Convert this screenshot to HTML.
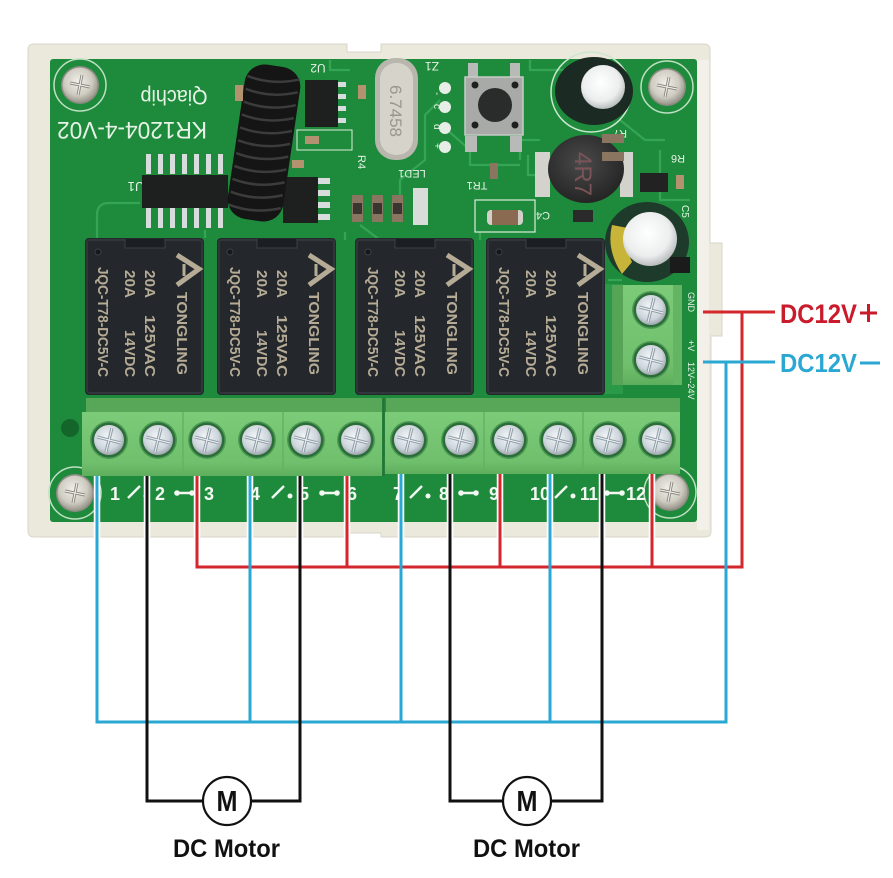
<!DOCTYPE html>
<html><head><meta charset="utf-8"><style>
html,body{margin:0;padding:0;background:#fff;}
svg{display:block;}
text{font-family:"Liberation Sans",sans-serif;}
</style></head><body>
<svg width="893" height="878" viewBox="0 0 893 878" xmlns="http://www.w3.org/2000/svg">
<defs>
 <radialGradient id="silver" cx="45%" cy="40%" r="65%">
  <stop offset="0" stop-color="#f3f6f8"/><stop offset="0.65" stop-color="#cdd6dc"/><stop offset="1" stop-color="#8e999f"/>
 </radialGradient>
 <radialGradient id="msilver" cx="45%" cy="40%" r="65%">
  <stop offset="0" stop-color="#f1efe8"/><stop offset="0.6" stop-color="#cfccc2"/><stop offset="1" stop-color="#8d8a80"/>
 </radialGradient>
 <radialGradient id="captop" cx="45%" cy="40%" r="60%">
  <stop offset="0" stop-color="#ffffff"/><stop offset="0.7" stop-color="#eceeee"/><stop offset="1" stop-color="#b9bdbd"/>
 </radialGradient>
 <radialGradient id="ind" cx="45%" cy="40%" r="60%">
  <stop offset="0" stop-color="#4a4a4a"/><stop offset="1" stop-color="#252525"/>
 </radialGradient>
 <linearGradient id="tb" x1="0" y1="0" x2="0" y2="1">
  <stop offset="0" stop-color="#7ccb79"/><stop offset="0.8" stop-color="#6fbf6d"/><stop offset="1" stop-color="#5eae5d"/>
 </linearGradient>
 <g id="ts">
  <circle r="19" fill="#4a9a52"/>
  <circle r="17.5" fill="#2c6c38"/>
  <circle r="15" fill="url(#silver)"/>
  <path d="M-12,-3 L12,3 M-3,12 L3,-12" stroke="#93a0a8" stroke-width="3.2"/>
  <path d="M-12,-3 L12,3 M-3,12 L3,-12" stroke="#eef3f6" stroke-width="1"/>
 </g>
 <g id="ms">
  <circle r="26" fill="none" stroke="#bfe0c3" stroke-width="1.5"/>
  <circle r="19" fill="#8e8b82"/>
  <circle r="17.5" fill="url(#msilver)"/>
  <path d="M-10,-2 L10,2 M-2,10 L2,-10" stroke="#8d8a82" stroke-width="3"/>
  <path d="M-10,-2 L10,2 M-2,10 L2,-10" stroke="#f5f3ee" stroke-width="1"/>
 </g>
 <g id="relay">
  <rect x="0" y="0" width="119" height="157" rx="4" fill="#24282d"/>
  <rect x="2" y="2" width="115" height="153" rx="3" fill="none" stroke="#31363b" stroke-width="2"/>
  <path d="M40,1 V10 H80 V1" fill="#1b1e22" stroke="#3b4046" stroke-width="1"/>
  <circle cx="13" cy="14" r="3" fill="#15171a" stroke="#3b4046"/>
  <g fill="#b6ac96" font-size="15" font-weight="bold">
   <text transform="translate(13,29) rotate(90)" textLength="110" lengthAdjust="spacingAndGlyphs">JQC-T78-DC5V-C</text>
   <text transform="translate(40,32) rotate(90)" textLength="28" lengthAdjust="spacingAndGlyphs">20A</text>
   <text transform="translate(40,92) rotate(90)" textLength="47" lengthAdjust="spacingAndGlyphs">14VDC</text>
   <text transform="translate(60,32) rotate(90)" textLength="28" lengthAdjust="spacingAndGlyphs">20A</text>
   <text transform="translate(60,77) rotate(90)" textLength="62" lengthAdjust="spacingAndGlyphs">125VAC</text>
   <text transform="translate(92,54) rotate(90)" textLength="83" lengthAdjust="spacingAndGlyphs">TONGLING</text>
  </g>
  <path d="M92,17 L114,31 L92,47" fill="none" stroke="#b6ac96" stroke-width="5"/>
  <path d="M99,26 L99,38" stroke="#b6ac96" stroke-width="3"/>
 </g>
</defs>

<rect width="893" height="878" fill="#fff"/>

<!-- housing -->
<path d="M34,44 H347 V52 H381 V44 H704 Q710,44 710,50 V243 H722 V336 H711 V531 Q711,537 705,537 H381 V533 H347 V537 H34 Q28,537 28,531 V50 Q28,44 34,44 Z" fill="#ebe8dc" stroke="#dad6c8" stroke-width="1"/>
<rect x="697" y="60" width="12" height="470" fill="#f2f0e8"/>

<!-- PCB -->
<rect x="50" y="59" width="647" height="463" rx="3" fill="#1e8b3c"/>
<!-- traces -->
<g fill="none" stroke="#35a555" stroke-width="2.2">
 <path d="M97,250 V215 Q97,203 109,203 H140"/>
 <path d="M330,60 V70 H350"/>
 <path d="M440,100 L425,115 V160 L400,180 V200"/>
 <path d="M445,128 L470,150 V165 H520"/>
 <path d="M360,225 L380,240"/>
 <path d="M528,155 V175 H545"/>
 <path d="M530,60 V70 H570"/>
 <path d="M620,120 L645,140 H665"/>
 <path d="M660,150 V200 H690"/>
 <path d="M205,230 V238"/>
 <path d="M345,232 V240"/>
 <path d="M480,232 V240"/>
 <path d="M608,280 H622"/>
 <path d="M540,140 H520 V160"/>
</g>
<rect x="600" y="284" width="23" height="110" fill="#2a9a48"/>
<circle cx="70" cy="428" r="9" fill="#13652a"/>

<!-- mounting screws -->
<use href="#ms" x="80" y="85"/>
<use href="#ms" x="667" y="87"/>
<use href="#ms" x="75" y="493"/>
<use href="#ms" x="670" y="492"/>

<!-- silkscreen text -->
<g fill="#e6f2e6">
 <text transform="translate(174,90) rotate(180)" font-size="21" text-anchor="middle" textLength="67" lengthAdjust="spacingAndGlyphs">Qiachip</text>
 <text transform="translate(132,122) rotate(180)" font-size="24" text-anchor="middle" textLength="150" lengthAdjust="spacingAndGlyphs">KR1204-4-V02</text>
 <text transform="translate(136,182) rotate(180)" font-size="13" text-anchor="middle">U1</text>
 <text transform="translate(318,64) rotate(180)" font-size="12" text-anchor="middle">U2</text>
 <text transform="translate(432,62) rotate(180)" font-size="12" text-anchor="middle">Z1</text>
 <text transform="translate(258,68) rotate(180)" font-size="11" text-anchor="middle">C7</text>
 <text transform="translate(358,155) rotate(90)" font-size="11">R4</text>
 <text transform="translate(412,170) rotate(180)" font-size="11" text-anchor="middle">LED1</text>
 <text transform="translate(477,182) rotate(180)" font-size="11" text-anchor="middle">TR1</text>
 <text transform="translate(543,212) rotate(180)" font-size="11" text-anchor="middle">C4</text>
 <text transform="translate(678,155) rotate(180)" font-size="11" text-anchor="middle">R6</text>
 <text transform="translate(620,130) rotate(180)" font-size="11" text-anchor="middle">R7</text>
 <text transform="translate(682,205) rotate(90)" font-size="10">C5</text>
 <text transform="translate(688,292) rotate(90)" font-size="9">GND</text>
 <text transform="translate(688,340) rotate(90)" font-size="9">+V</text>
 <text transform="translate(688,362) rotate(90)" font-size="9">12V--24V</text>
 <text transform="translate(434,92) rotate(90)" font-size="10">-</text>
 <text transform="translate(434,104) rotate(90)" font-size="10">c</text>
 <text transform="translate(434,124) rotate(90)" font-size="10">d</text>
 <text transform="translate(434,143) rotate(90)" font-size="10">+</text>
</g>

<!-- U1 chip -->
<g fill="#d8dcdc">
 <rect x="146" y="154" width="5" height="20"/><rect x="158" y="154" width="5" height="20"/><rect x="170" y="154" width="5" height="20"/><rect x="182" y="154" width="5" height="20"/><rect x="194" y="154" width="5" height="20"/><rect x="206" y="154" width="5" height="20"/><rect x="218" y="154" width="5" height="20"/>
 <rect x="146" y="208" width="5" height="20"/><rect x="158" y="208" width="5" height="20"/><rect x="170" y="208" width="5" height="20"/><rect x="182" y="208" width="5" height="20"/><rect x="194" y="208" width="5" height="20"/><rect x="206" y="208" width="5" height="20"/><rect x="218" y="208" width="5" height="20"/>
</g>
<rect x="142" y="175" width="86" height="33" fill="#1e1f1f"/>

<!-- chip right of coil -->
<g fill="#d8dcdc">
 <rect x="316" y="178" width="14" height="6"/><rect x="316" y="190" width="14" height="6"/><rect x="316" y="202" width="14" height="6"/><rect x="316" y="214" width="14" height="6"/>
 <rect x="336" y="82" width="10" height="5"/><rect x="336" y="94" width="10" height="5"/><rect x="336" y="106" width="10" height="5"/><rect x="336" y="118" width="10" height="5"/>
</g>
<rect x="283" y="177" width="35" height="46" fill="#1e1f1f"/>
<rect x="305" y="80" width="33" height="47" fill="#1e1f1f"/>

<!-- antenna coil -->
<g transform="translate(264,143) rotate(8.3)">
 <rect x="-28" y="-78" width="56" height="156" rx="20" fill="#151515"/>
 <g stroke="#3c3c3c" stroke-width="2.5" fill="none">
  <path d="M-26,-64 Q0,-58 26,-68"/><path d="M-26,-51 Q0,-45 26,-55"/><path d="M-26,-38 Q0,-32 26,-42"/><path d="M-26,-25 Q0,-19 26,-29"/><path d="M-26,-12 Q0,-6 26,-16"/><path d="M-26,1 Q0,7 26,-3"/><path d="M-26,14 Q0,20 26,10"/><path d="M-26,27 Q0,33 26,23"/><path d="M-26,40 Q0,46 26,36"/><path d="M-26,53 Q0,59 26,49"/><path d="M-26,66 Q0,72 26,62"/>
 </g>
</g>

<!-- small SMDs left area -->
<g>
 <rect x="235" y="85" width="8" height="16" fill="#b39270"/>
 <rect x="358" y="85" width="8" height="14" fill="#b39270"/>
 <rect x="305" y="136" width="14" height="8" fill="#b39270"/>
 <rect x="297" y="130" width="55" height="20" fill="none" stroke="#d8ecd8" stroke-width="1"/>
 <rect x="292" y="160" width="12" height="8" fill="#b39270"/>
</g>

<!-- crystal -->
<rect x="375" y="58" width="43" height="102" rx="20" fill="#b9b6ae"/>
<rect x="380" y="63" width="33" height="92" rx="16" fill="#d6d3cb"/>
<text transform="translate(390,85) rotate(90)" font-size="17" fill="#9a968d">6.7458</text>

<!-- pads -->
<g fill="#e7eee7"><circle cx="445" cy="88" r="6"/><circle cx="445" cy="107" r="6"/><circle cx="445" cy="128" r="6"/><circle cx="445" cy="147" r="6"/></g>

<!-- resistors / LED -->
<g>
 <rect x="352" y="195" width="11" height="27" fill="#8a7560"/><rect x="353" y="203" width="9" height="11" fill="#3a3530"/>
 <rect x="372" y="195" width="11" height="27" fill="#8a7560"/><rect x="373" y="203" width="9" height="11" fill="#3a3530"/>
 <rect x="392" y="195" width="11" height="27" fill="#8a7560"/><rect x="393" y="203" width="9" height="11" fill="#3a3530"/>
 <rect x="413" y="188" width="15" height="37" fill="#d9ddd9"/>
 <rect x="490" y="163" width="8" height="16" fill="#8a7560"/>
</g>

<!-- button -->
<g fill="#b8bab7">
 <rect x="468" y="63" width="10" height="14"/><rect x="510" y="63" width="10" height="14"/>
 <rect x="465" y="136" width="12" height="16"/><rect x="510" y="136" width="12" height="16"/>
</g>
<rect x="465" y="77" width="58" height="58" fill="#a8aaa7" stroke="#c9cbc8" stroke-width="1.5"/>
<circle cx="495" cy="105" r="17" fill="#2a2b2b"/>
<g fill="#202020"><circle cx="475" cy="85" r="3.5"/><circle cx="515" cy="85" r="3.5"/><circle cx="475" cy="125" r="3.5"/><circle cx="515" cy="125" r="3.5"/></g>

<!-- electrolytic cap top -->
<circle cx="591" cy="92" r="40" fill="none" stroke="#cde6cf" stroke-width="1.5"/>
<ellipse cx="594" cy="91" rx="39" ry="34" fill="#1b2a23"/>
<circle cx="603" cy="87" r="22" fill="url(#captop)"/>

<!-- inductor -->
<rect x="535" y="152" width="15" height="45" fill="#d4d2cc"/>
<rect x="620" y="152" width="13" height="45" fill="#d4d2cc"/>
<ellipse cx="586" cy="169" rx="38" ry="34" fill="url(#ind)"/>
<text transform="translate(575,152) rotate(90)" font-size="24" fill="#7a5458">4R7</text>

<!-- small components right -->
<rect x="640" y="173" width="28" height="19" fill="#222"/>
<rect x="602" y="134" width="22" height="9" fill="#8a7560"/>
<rect x="602" y="152" width="22" height="9" fill="#8a7560"/>
<rect x="676" y="175" width="8" height="14" fill="#b39270"/>
<rect x="573" y="210" width="20" height="12" fill="#2a2a2a"/>

<!-- C4 -->
<rect x="475" y="200" width="60" height="32" fill="none" stroke="#d8ecd8" stroke-width="1.2"/>
<rect x="487" y="210" width="36" height="15" rx="4" fill="#d2d0c8"/>
<rect x="492" y="210" width="26" height="15" fill="#8b6a52"/>

<!-- big capacitor -->
<ellipse cx="647" cy="242" rx="42" ry="40" fill="#1d3a2b"/>
<path d="M612,225 Q606,250 622,274 L632,262 Q624,245 628,228 Z" fill="#c9b43a"/>
<circle cx="650" cy="239" r="27" fill="url(#captop)"/>
<rect x="670" y="257" width="20" height="16" fill="#1b1b1b"/>

<!-- relays -->
<use href="#relay" x="85" y="238"/>
<use href="#relay" x="217" y="238"/>
<use href="#relay" x="355" y="238"/>
<use href="#relay" x="486" y="238"/>

<!-- power terminal block -->
<rect x="612" y="285" width="12" height="100" fill="#56a556"/>
<rect x="623" y="285" width="59" height="100" fill="url(#tb)"/>
<rect x="673" y="285" width="9" height="100" fill="#64b463"/>
<use href="#ts" x="651" y="310"/>
<use href="#ts" x="651" y="360"/>

<!-- main terminal blocks -->
<rect x="86" y="398" width="296" height="15" fill="#58a758"/>
<rect x="386" y="398" width="294" height="15" fill="#58a758"/>
<rect x="82" y="412" width="300" height="64" fill="url(#tb)"/>
<rect x="385" y="412" width="295" height="62" fill="url(#tb)"/>
<g stroke="#63b262" stroke-width="1.5">
 <line x1="183" y1="412" x2="183" y2="476"/><line x1="283" y1="412" x2="283" y2="476"/>
 <line x1="484" y1="412" x2="484" y2="474"/><line x1="583" y1="412" x2="583" y2="474"/>
</g>
<line x1="383.5" y1="398" x2="383.5" y2="476" stroke="#2f6e37" stroke-width="2"/>
<use href="#ts" x="109" y="440"/><use href="#ts" x="158" y="440"/><use href="#ts" x="207" y="440"/>
<use href="#ts" x="257" y="440"/><use href="#ts" x="306" y="440"/><use href="#ts" x="356" y="440"/>
<use href="#ts" x="409" y="440"/><use href="#ts" x="460" y="440"/><use href="#ts" x="509" y="440"/>
<use href="#ts" x="558" y="440"/><use href="#ts" x="608" y="440"/><use href="#ts" x="657" y="440"/>

<!-- terminal labels -->
<g fill="#f2f7f2" font-size="18" font-weight="bold" text-anchor="middle">
 <text x="115" y="500">1</text><text x="160" y="500">2</text><text x="209" y="500">3</text>
 <text x="255" y="500">4</text><text x="304" y="500">5</text><text x="352" y="500">6</text>
 <text x="398" y="500">7</text><text x="444" y="500">8</text><text x="494" y="500">9</text>
 <text x="540" y="500" textLength="20" lengthAdjust="spacingAndGlyphs">10</text><text x="589" y="500" textLength="18" lengthAdjust="spacingAndGlyphs">11</text><text x="636" y="500" textLength="20" lengthAdjust="spacingAndGlyphs">12</text>
</g>
<g stroke="#f2f7f2" stroke-width="2.5" fill="#f2f7f2">
 <line x1="128" y1="498" x2="140" y2="486"/><circle cx="146" cy="496" r="2.5" stroke="none"/>
 <line x1="177" y1="493" x2="192" y2="493"/><circle cx="177" cy="493" r="2.8" stroke="none"/><circle cx="192" cy="493" r="2.8" stroke="none"/>
 <line x1="272" y1="498" x2="284" y2="486"/><circle cx="290" cy="496" r="2.5" stroke="none"/>
 <line x1="322" y1="493" x2="337" y2="493"/><circle cx="322" cy="493" r="2.8" stroke="none"/><circle cx="337" cy="493" r="2.8" stroke="none"/>
 <line x1="410" y1="498" x2="422" y2="486"/><circle cx="428" cy="496" r="2.5" stroke="none"/>
 <line x1="461" y1="493" x2="476" y2="493"/><circle cx="461" cy="493" r="2.8" stroke="none"/><circle cx="476" cy="493" r="2.8" stroke="none"/>
 <line x1="555" y1="498" x2="567" y2="486"/><circle cx="573" cy="496" r="2.5" stroke="none"/>
 <line x1="607" y1="493" x2="622" y2="493"/><circle cx="607" cy="493" r="2.8" stroke="none"/><circle cx="622" cy="493" r="2.8" stroke="none"/>
</g>

<!-- wires: white outline over board -->
<g stroke="#ffffff" stroke-width="6.5" fill="none">
 <line x1="97" y1="476" x2="97" y2="540"/><line x1="147" y1="476" x2="147" y2="540"/><line x1="197" y1="476" x2="197" y2="540"/>
 <line x1="250" y1="476" x2="250" y2="540"/><line x1="300" y1="476" x2="300" y2="540"/><line x1="347" y1="476" x2="347" y2="540"/>
 <line x1="401" y1="474" x2="401" y2="540"/><line x1="450" y1="474" x2="450" y2="540"/><line x1="500" y1="474" x2="500" y2="540"/>
 <line x1="550" y1="474" x2="550" y2="540"/><line x1="602" y1="474" x2="602" y2="540"/><line x1="652" y1="474" x2="652" y2="540"/>
</g>

<!-- red wires -->
<g stroke="#d3262d" stroke-width="3" fill="none">
 <polyline points="197,476 197,567 742,567 742,312"/>
 <line x1="347" y1="476" x2="347" y2="567"/>
 <line x1="500" y1="474" x2="500" y2="567"/>
 <line x1="652" y1="474" x2="652" y2="567"/>
 <line x1="703" y1="312" x2="775" y2="312"/>
</g>
<!-- blue wires -->
<g stroke="#2aa8d3" stroke-width="3" fill="none">
 <polyline points="97,476 97,722 726,722 726,362"/>
 <line x1="250" y1="476" x2="250" y2="722"/>
 <line x1="401" y1="474" x2="401" y2="722"/>
 <line x1="550" y1="474" x2="550" y2="722"/>
 <line x1="703" y1="362" x2="775" y2="362"/>
</g>
<!-- black wires / motors -->
<g stroke="#111" stroke-width="3" fill="none">
 <polyline points="147,476 147,801 203,801"/>
 <polyline points="300,476 300,801 251,801"/>
 <polyline points="450,474 450,801 503,801"/>
 <polyline points="602,474 602,801 551,801"/>
</g>
<g stroke="#111" stroke-width="2.2" fill="#fff">
 <circle cx="227" cy="801" r="24"/>
 <circle cx="527" cy="801" r="24"/>
</g>
<g fill="#111" text-anchor="middle" font-weight="bold">
 <text x="227" y="811" font-size="29" textLength="21" lengthAdjust="spacingAndGlyphs">M</text>
 <text x="527" y="811" font-size="29" textLength="21" lengthAdjust="spacingAndGlyphs">M</text>
</g>
<g fill="#111" font-size="25" font-weight="bold">
 <text x="173" y="857" textLength="107" lengthAdjust="spacingAndGlyphs">DC Motor</text>
 <text x="473" y="857" textLength="107" lengthAdjust="spacingAndGlyphs">DC Motor</text>
</g>

<!-- power labels -->
<text x="780" y="323" font-size="27" font-weight="bold" fill="#c91b2b" textLength="77" lengthAdjust="spacingAndGlyphs">DC12V</text>
<g stroke="#c91b2b" stroke-width="3"><line x1="860" y1="313" x2="877" y2="313"/><line x1="868.5" y1="304" x2="868.5" y2="322"/></g>
<text x="780" y="372" font-size="26" font-weight="bold" fill="#2aa8d3" textLength="77" lengthAdjust="spacingAndGlyphs">DC12V</text>
<line x1="860" y1="363" x2="880" y2="363" stroke="#2aa8d3" stroke-width="3"/>
</svg>
</body></html>
